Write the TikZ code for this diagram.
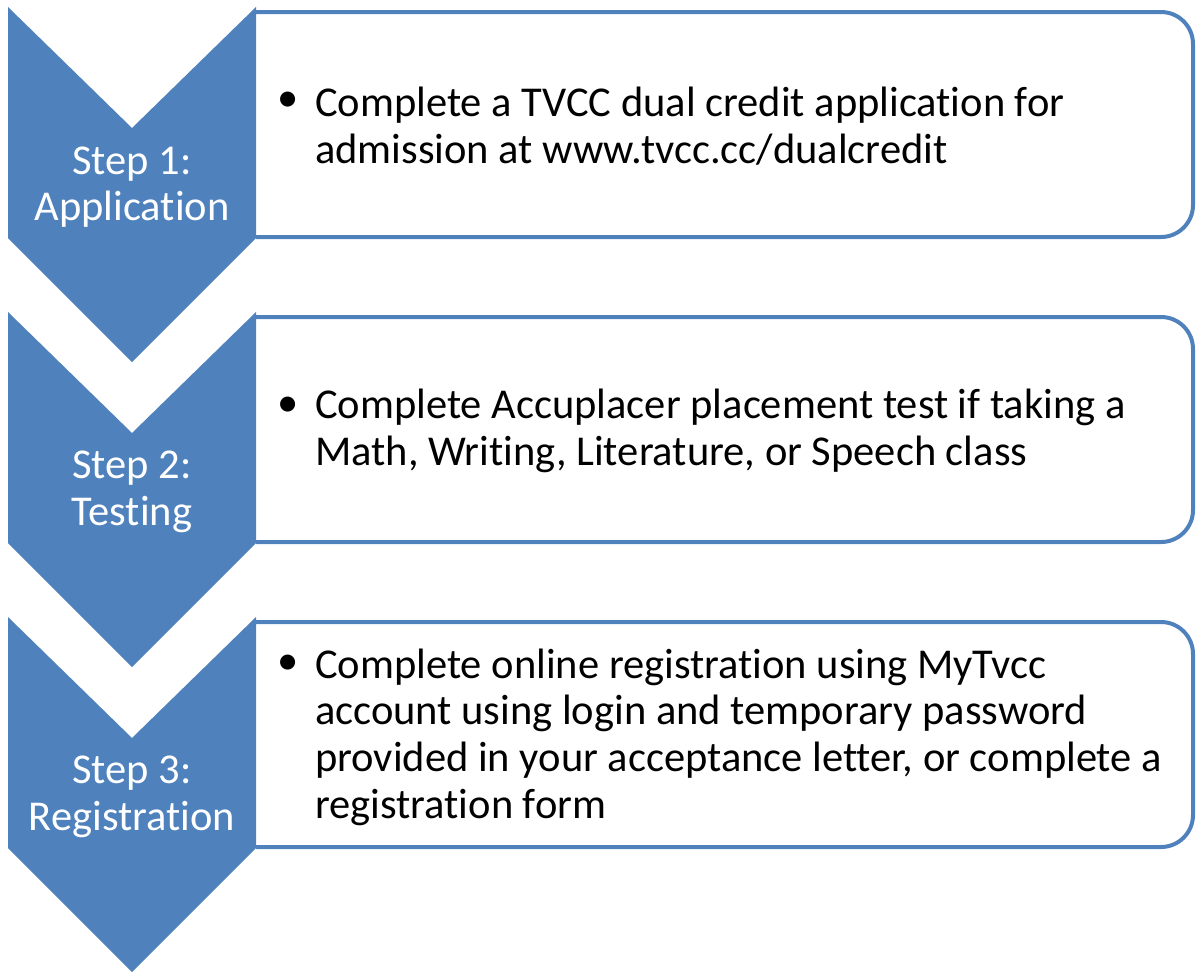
\documentclass[tikz,border=0pt]{standalone}
\usepackage{fontspec}
\setmainfont{Carlito}[Ligatures=NoCommon]
\definecolor{stepblue}{RGB}{79,129,189}

\begin{document}
\begin{tikzpicture}[x=1pt,y=-1pt,
	every node/.style = {inner sep=0pt,font=\fontsize{42.5}{46.7}\selectfont},
	chevron/.style={fill=stepblue,draw=none},
	steplabel/.style={text=white,align=center},
	stepbox/.style={draw=stepblue,line width=4pt,rounded corners=32pt},
	boxtext/.style={anchor=west,align=left},
	dot/.style={anchor=center}
	]
  \useasboundingbox (0,0) rectangle (1197,972);
  % step 1
  \fill[chevron] (8,7) -- (132,128) -- (256,7) -- (256,238) -- (132,362) -- (8,238) -- cycle;
  \node[steplabel] (s1) at (132,187) {Step 1:\\Application};
  \draw[stepbox] (256,12) -| (1193,237) -- (256,237);
  \node[dot] (b1) at (288,102) {\textbullet};
  \node[boxtext] (t1) at (315,126) {Complete a TVCC dual credit application for\\admission at www.tvcc.cc/dualcredit};
  % step 2
  \fill[chevron] (8,312) -- (132,433) -- (256,312) -- (256,543) -- (132,667) -- (8,543) -- cycle;
  \node[steplabel] (s2) at (132,492) {Step 2:\\Testing};
  \draw[stepbox] (256,317) -| (1193,542) -- (256,542);
  \node[dot] (b2) at (288,407) {\textbullet};
  \node[boxtext] (t2) at (315,431) {Complete Accuplacer placement test if taking a\\Math, Writing, Literature, or Speech class};
  % step 3
  \fill[chevron] (8,617) -- (132,738) -- (256,617) -- (256,848) -- (132,972) -- (8,848) -- cycle;
  \node[steplabel] (s3) at (132,797) {Step 3:\\Registration};
  \draw[stepbox] (256,622) -| (1193,847) -- (256,847);
  \node[dot] (b3) at (288,665) {\textbullet};
  \node[boxtext] (t3) at (315,737) {Complete online registration using MyTvcc\\account using login and temporary password\\provided in your acceptance letter, or complete a\\registration form};
\end{tikzpicture}
\end{document}
